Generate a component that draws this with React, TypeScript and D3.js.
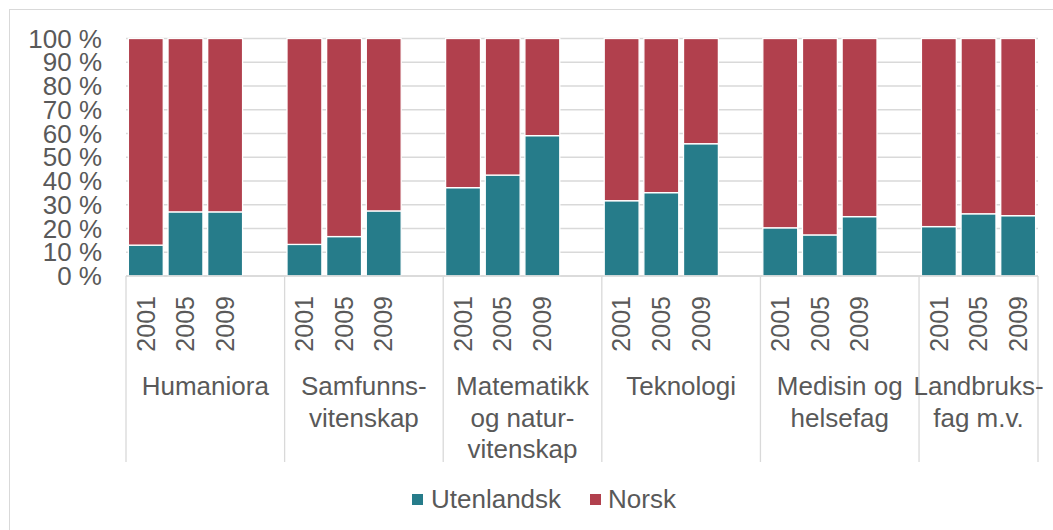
import * as d3 from "d3";

// Andel utenlandske og norske (share), per fagområde og år
const categories = [
  ["Humaniora"],
  ["Samfunns-", "vitenskap"],
  ["Matematikk", "og natur-", "vitenskap"],
  ["Teknologi"],
  ["Medisin og", "helsefag"],
  ["Landbruks-", "fag m.v."],
];
const years = ["2001", "2005", "2009"];
const utenlandsk = [
  [13, 27, 27],
  [13.3, 16.6, 27.4],
  [37.2, 42.5, 59.1],
  [31.7, 35.1, 55.7],
  [20.3, 17.3, 25],
  [20.8, 26.2, 25.4],
];
const seriesNames = ["Utenlandsk", "Norsk"];
const colors = ["#267c8a", "#b1404d"];
const yTicks = d3.range(0, 101, 10);

const W = 1053;
const H = 530;
const left = 126;
const right = 1038;
const top = 38.5;
const bottom = 276;
const textColor = "#595959";
const grid = "#d9d9d9";
const font = "'Liberation Sans', Arial, sans-serif";
const fs = 26;

export default function App() {
  // one slot per year plus an empty slot between groups (last one dropped)
  const slots: string[] = [];
  categories.forEach((c, ci) => {
    years.forEach((yr) => slots.push(`${ci}|${yr}`));
    if (ci < categories.length - 1) slots.push(`${ci}|gap`);
  });

  const x = d3
    .scaleBand<string>()
    .domain(slots)
    .range([left, right])
    .paddingInner(0.12)
    .paddingOuter(0.06);
  const step = x.step();
  const y = d3.scaleLinear().domain([0, 100]).range([bottom, top]);

  const rows = categories.flatMap((c, ci) =>
    years.map((yr, yi) => ({
      key: `${ci}|${yr}`,
      year: yr,
      Utenlandsk: utenlandsk[ci][yi],
      Norsk: 100 - utenlandsk[ci][yi],
    }))
  );
  const stacked = d3.stack<any>().keys(seriesNames)(rows);

  const catStart = (ci: number) => left + ci * 4 * step;
  const catEnd = (ci: number) => Math.min(right, left + (ci * 4 + 4) * step);

  return (
    <svg
      width={W}
      height={H}
      style={{ position: "absolute", left: 0, top: 0, background: "#fff" }}
      fontFamily={font}
    >
      <rect x={9.5} y={9.5} width={W} height={H} fill="none" stroke={grid} strokeWidth={1} />

      {yTicks.map((t) => (
        <g key={t}>
          <line x1={left} x2={right} y1={y(t)} y2={y(t)} stroke={grid} strokeWidth={1.3} />
          <text
            x={102}
            y={y(t)}
            dy="0.35em"
            textAnchor="end"
            fontSize={fs}
            fill={textColor}
          >
            {`${t} %`}
          </text>
        </g>
      ))}

      {stacked.map((s, si) => (
        <g key={s.key} fill={colors[si]}>
          {s.map((d: any) => (
            <rect
              key={d.data.key}
              x={x(d.data.key)}
              width={x.bandwidth()}
              y={y(d[1])}
              height={y(d[0]) - y(d[1])}
              stroke="#fff"
              strokeWidth={1.3}
            />
          ))}
        </g>
      ))}

      <line x1={left} x2={right} y1={bottom} y2={bottom} stroke={grid} strokeWidth={1.3} />

      {categories.map((c, ci) => (
        <line
          key={"d" + ci}
          x1={catStart(ci)}
          x2={catStart(ci)}
          y1={bottom}
          y2={462}
          stroke={grid}
          strokeWidth={1.3}
        />
      ))}
      <line x1={right} x2={right} y1={bottom} y2={462} stroke={grid} strokeWidth={1.3} />

      {rows.map((r) => {
        const cx = (x(r.key) as number) + x.bandwidth() / 2;
        return (
          <text
            key={"y" + r.key}
            transform={`translate(${cx},296) rotate(-90)`}
            dy="0.35em"
            textAnchor="end"
            fontSize={fs - 1}
            fill={textColor}
          >
            {r.year}
          </text>
        );
      })}

      {categories.map((lines, ci) => (
        <text
          key={"c" + ci}
          x={(catStart(ci) + catEnd(ci)) / 2}
          y={395}
          textAnchor="middle"
          fontSize={fs}
          fill={textColor}
        >
          {lines.map((l, li) => (
            <tspan key={li} x={(catStart(ci) + catEnd(ci)) / 2} y={395 + li * 31.5}>
              {l}
            </tspan>
          ))}
        </text>
      ))}

      <g>
        <rect x={412} y={494} width={11} height={11} fill={colors[0]} />
        <text x={431} y={507.5} fontSize={fs} fill={textColor}>
          {seriesNames[0]}
        </text>
        <rect x={590} y={494} width={11} height={11} fill={colors[1]} />
        <text x={608} y={507.5} fontSize={fs} fill={textColor}>
          {seriesNames[1]}
        </text>
      </g>
    </svg>
  );
}
